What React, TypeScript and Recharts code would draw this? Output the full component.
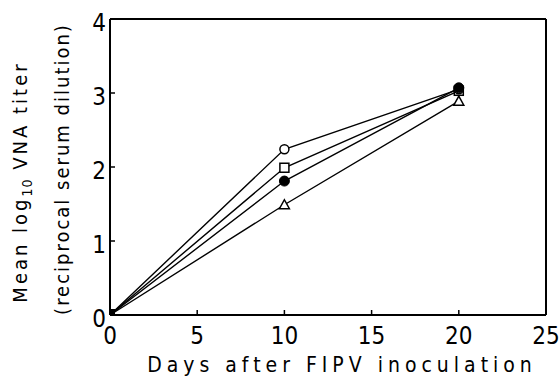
import React from 'react';
import { LineChart, Line, XAxis, YAxis, ReferenceLine } from 'recharts';

const days = [0, 10, 20];
const openCircle = [0, 2.24, 3.05];
const openSquare = [0, 1.99, 3.03];
const filledCircle = [0, 1.81, 3.07];
const openTriangle = [0, 1.49, 2.89];
const xTicks = [0, 5, 10, 15, 20, 25];
const yTicks = [0, 1, 2, 3, 4];

const data = days.map((d, i) => ({
  day: d,
  oc: openCircle[i],
  os: openSquare[i],
  fc: filledCircle[i],
  ot: openTriangle[i],
}));

const FONT = '"Liberation Sans Narrow", "DejaVu Sans Condensed", sans-serif';

type Kind = 'oc' | 'os' | 'fc' | 'ot';

const makeDot = (kind: Kind) => (props: any) => {
  const { cx, cy, index } = props;
  const key = `${kind}-${index}`;
  if (cx == null || cy == null) return <g key={key} />;
  if (index === 0) {
    if (kind !== 'fc') return <g key={key} />;
    return <rect key={key} x={cx - 1} y={cy - 6} width={6} height={6} fill="#000" />;
  }
  switch (kind) {
    case 'oc':
      return <circle key={key} cx={cx} cy={cy} r={4.5} fill="#fff" stroke="#000" strokeWidth={1.5} />;
    case 'fc':
      return <circle key={key} cx={cx} cy={cy} r={5} fill="#000" stroke="#000" strokeWidth={1} />;
    case 'os':
      return <rect key={key} x={cx - 4.5} y={cy - 4.5} width={9} height={9} fill="#fff" stroke="#000" strokeWidth={1.5} />;
    case 'ot':
      return (
        <path
          key={key}
          d={`M${cx},${cy - 5} L${cx + 5},${cy + 4} L${cx - 5},${cy + 4} Z`}
          fill="#fff"
          stroke="#000"
          strokeWidth={1.5}
        />
      );
  }
  return <g key={key} />;
};

const YTitle = (props: any) => {
  const vb = props.viewBox || {};
  const cy = vb.y + vb.height / 2;
  return (
    <g fontFamily={FONT} fill="#000">
      <text
        x={0}
        y={0}
        transform={`translate(27, ${cy + 15}) rotate(-90)`}
        textAnchor="middle"
        fontSize={20}
        letterSpacing={3}
      >
        <tspan>Mean log</tspan>
        <tspan fontSize={14} dy={5} letterSpacing={1}>10</tspan>
        <tspan dy={-5}> VNA titer</tspan>
      </text>
      <text
        x={0}
        y={0}
        transform={`translate(69, ${cy + 2}) rotate(-90)`}
        textAnchor="middle"
        fontSize={20}
        letterSpacing={2}
      >
        (reciprocal serum dilution)
      </text>
    </g>
  );
};

const XTitle = (props: any) => {
  const vb = props.viewBox || {};
  const cx = vb.x + vb.width / 2 + 14;
  return (
    <text x={cx} y={372} textAnchor="middle" fontFamily={FONT} fontSize={21} letterSpacing={5} fill="#000">
      Days after FIPV inoculation
    </text>
  );
};

export default function App() {
  return (
    <div style={{ position: 'absolute', left: 0, top: 0, background: '#fff' }}>
      <LineChart width={560} height={379} data={data} margin={{ top: 19, right: 14, left: 0, bottom: 0 }}>
        <XAxis
          dataKey="day"
          type="number"
          domain={[0, 25]}
          ticks={xTicks}
          height={64}
          tickSize={-5}
          tickMargin={17}
          axisLine={{ stroke: '#000', strokeWidth: 2 }}
          tickLine={{ stroke: '#000', strokeWidth: 1.5 }}
          tick={{ fill: '#000', fontSize: 24, fontFamily: FONT }}
          label={<XTitle />}
        />
        <YAxis
          type="number"
          domain={[0, 4]}
          ticks={yTicks}
          width={110}
          tickSize={-5}
          tickMargin={9}
          axisLine={{ stroke: '#000', strokeWidth: 2 }}
          tickLine={{ stroke: '#000', strokeWidth: 1.5 }}
          tick={{ fill: '#000', fontSize: 24, fontFamily: FONT, dy: 3 }}
          label={<YTitle />}
        />
        <ReferenceLine y={4} stroke="#000" strokeWidth={2} />
        <ReferenceLine x={25} stroke="#000" strokeWidth={2} />
        <Line dataKey="ot" stroke="#000" strokeWidth={1.4} isAnimationActive={false} dot={makeDot('ot')} />
        <Line dataKey="os" stroke="#000" strokeWidth={1.4} isAnimationActive={false} dot={makeDot('os')} />
        <Line dataKey="oc" stroke="#000" strokeWidth={1.4} isAnimationActive={false} dot={makeDot('oc')} />
        <Line dataKey="fc" stroke="#000" strokeWidth={1.4} isAnimationActive={false} dot={makeDot('fc')} />
      </LineChart>
    </div>
  );
}
